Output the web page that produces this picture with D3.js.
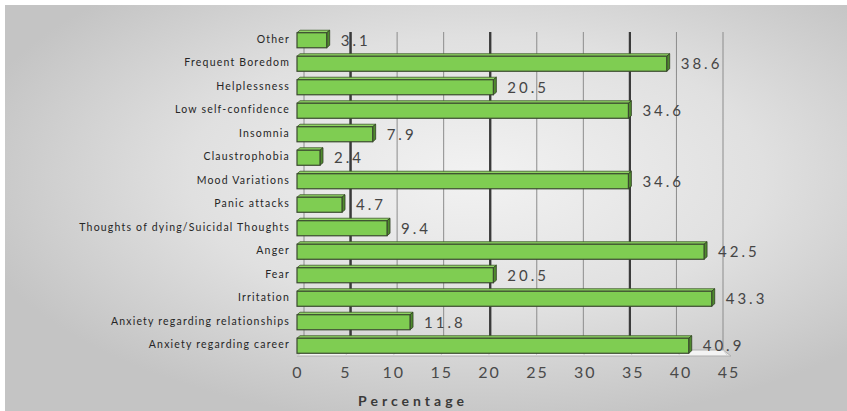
<!DOCTYPE html>
<html>
<head>
<meta charset="utf-8">
<script src="https://cdn.jsdelivr.net/npm/d3@7"></script>
<style>
  html, body { margin: 0; padding: 0; background: #ffffff; }
  svg { display: block; }
</style>
</head>
<body>
<svg id="chart" width="847" height="411"></svg>
<script>
// Reported symptoms, top to bottom
const categories = [
  "Other",
  "Frequent Boredom",
  "Helplessness",
  "Low self-confidence",
  "Insomnia",
  "Claustrophobia",
  "Mood Variations",
  "Panic attacks",
  "Thoughts of dying/Suicidal Thoughts",
  "Anger",
  "Fear",
  "Irritation",
  "Anxiety regarding relationships",
  "Anxiety regarding career"
];
const percentages = [3.1, 38.6, 20.5, 34.6, 7.9, 2.4, 34.6, 4.7, 9.4, 42.5, 20.5, 43.3, 11.8, 40.9];
const tickValues = [0, 5, 10, 15, 20, 25, 30, 35, 40, 45];
const axisTitle = "Percentage";

const svg = d3.select("#chart");
const W = 847, H = 411;

// Background panel with soft radial shading
const defs = svg.append("defs");
const bg = defs.append("radialGradient").attr("id", "bgGrad")
  .attr("cx", "0.56").attr("cy", "0.42").attr("r", "0.62");
bg.append("stop").attr("offset", "0%").attr("stop-color", "#f2f2f2");
bg.append("stop").attr("offset", "55%").attr("stop-color", "#e0e0e0");
bg.append("stop").attr("offset", "100%").attr("stop-color", "#c4c4c4");

svg.append("rect").attr("x", 5).attr("y", 5).attr("width", W - 5).attr("height", H - 5)
  .attr("fill", "url(#bgGrad)");

// Scales: front plane for bars/ticks, back wall for gridlines
const xFront = d3.scaleLinear().domain([0, 45]).range([297, 728]);
const xBack = d3.scaleLinear().domain([0, 45]).range([304, 723]);
const y = d3.scaleBand().domain(categories).range([28.5, 357.5]).paddingInner(0.36).paddingOuter(0.18);

const wallTop = 32, wallBottom = 350, floorFront = 356;

// Floor
const floor = svg.append("g");
floor.append("path")
  .attr("d", `M${xFront(0)},${floorFront} L${xBack(0)},${wallBottom} L${xBack(45)},${wallBottom} L${xFront(45) + 3},${floorFront} Z`)
  .attr("fill", "#f4f4f4").attr("stroke", "#b0b0b0").attr("stroke-width", 1);
floor.selectAll("line.ft").data(tickValues).join("line")
  .attr("x1", d => xFront(d)).attr("x2", d => xBack(d))
  .attr("y1", floorFront).attr("y2", wallBottom)
  .attr("stroke", "#d0d0d0").attr("stroke-width", 1);

// Back-wall gridlines
const heavy = new Set([5, 20, 35]);
svg.append("g").selectAll("line").data(tickValues).join("line")
  .attr("x1", d => xBack(d)).attr("x2", d => xBack(d))
  .attr("y1", wallTop).attr("y2", wallBottom)
  .attr("stroke", d => heavy.has(d) ? "#3a3a3a" : "#8c8c8c")
  .attr("stroke-width", d => heavy.has(d) ? 2 : 1);

// Value labels
svg.append("g").selectAll("text").data(categories).join("text")
  .attr("x", (d, i) => xFront(percentages[i]) + 14)
  .attr("y", d => y(d) + y.bandwidth() / 2)
  .attr("dy", "0.36em")
  .attr("font-family", "Lato, 'Open Sans', sans-serif")
  .attr("font-size", 15)
  .attr("letter-spacing", 3)
  .attr("fill", "#454545")
  .text((d, i) => percentages[i].toFixed(1));

// Heavy gridlines re-drawn over labels
svg.append("g").selectAll("line").data(tickValues.filter(d => heavy.has(d))).join("line")
  .attr("x1", d => xBack(d)).attr("x2", d => xBack(d))
  .attr("y1", wallTop).attr("y2", wallBottom)
  .attr("stroke", "#3a3a3a").attr("stroke-width", 2);

// Bars with a shallow 3D top and end face
const dx = 3, dy = -2.5;
const bars = svg.append("g").selectAll("g").data(categories).join("g");
bars.append("path") // top face
  .attr("d", (d, i) => {
    const x0 = xFront(0), x1 = xFront(percentages[i]), yt = y(d);
    return `M${x0},${yt} L${x0 + dx},${yt + dy} L${x1 + dx},${yt + dy} L${x1},${yt} Z`;
  })
  .attr("fill", "#8fd463").attr("stroke", "#3d5a2a").attr("stroke-width", 0.8);
bars.append("path") // end face
  .attr("d", (d, i) => {
    const x1 = xFront(percentages[i]), yt = y(d), yb = yt + y.bandwidth();
    return `M${x1},${yt} L${x1 + dx},${yt + dy} L${x1 + dx},${yb + dy} L${x1},${yb} Z`;
  })
  .attr("fill", "#4f8a2e").attr("stroke", "#2e3d22").attr("stroke-width", 0.8);
bars.append("rect") // front face
  .attr("x", xFront(0))
  .attr("y", d => y(d))
  .attr("width", (d, i) => xFront(percentages[i]) - xFront(0))
  .attr("height", y.bandwidth())
  .attr("fill", "#7fcd52")
  .attr("stroke", "#3b4a30").attr("stroke-width", 1.2);

// Category labels
svg.append("g").selectAll("text").data(categories).join("text")
  .attr("x", 290)
  .attr("y", d => y(d) + y.bandwidth() / 2 - 1)
  .attr("dy", "0.35em")
  .attr("text-anchor", "end")
  .attr("font-family", "Lato, 'Open Sans', sans-serif")
  .attr("font-size", 10.5)
  .attr("letter-spacing", 1.2)
  .attr("fill", "#262626")
  .text(d => d);

// Axis tick labels
svg.append("g").selectAll("text").data(tickValues).join("text")
  .attr("x", d => xFront(d) + 1)
  .attr("y", 372)
  .attr("dy", "0.35em")
  .attr("text-anchor", "middle")
  .attr("font-family", "Lato, 'Open Sans', sans-serif")
  .attr("font-size", 16)
  .attr("letter-spacing", 2)
  .attr("fill", "#4a4a4a")
  .text(d => d);

// Axis title
svg.append("text")
  .attr("x", 413).attr("y", 401)
  .attr("dy", "0.35em")
  .attr("text-anchor", "middle")
  .attr("font-family", "Lato, 'Open Sans', sans-serif")
  .attr("font-size", 14)
  .attr("font-weight", "bold")
  .attr("letter-spacing", 4)
  .attr("fill", "#3a3a3a")
  .text(axisTitle);
</script>
</body>
</html>
